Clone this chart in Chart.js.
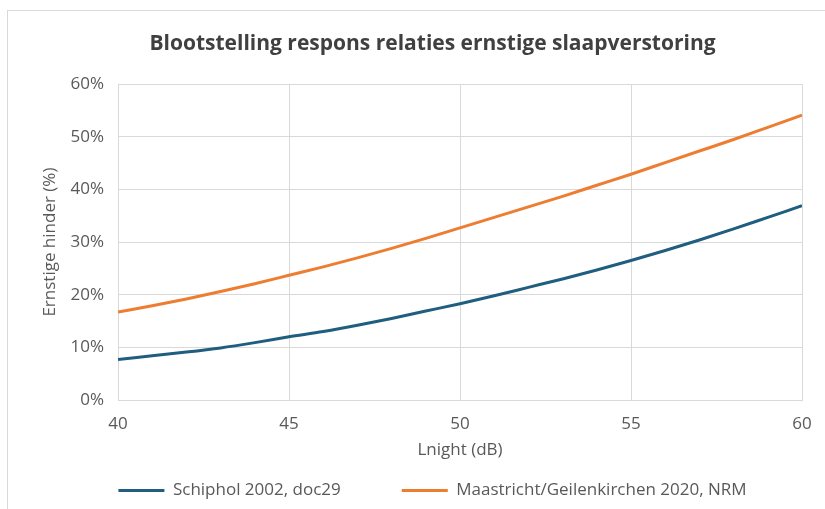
<!DOCTYPE html>
<html>
<head>
<meta charset="utf-8">
<script src="https://cdn.jsdelivr.net/npm/chart.js@4/dist/chart.umd.min.js"></script>
<style>
  html, body { margin: 0; padding: 0; background: #fff; }
  #wrap { position: relative; width: 825px; height: 509px; overflow: hidden; }
  #frame { position: absolute; left: 7px; top: 10px; width: 900px; height: 600px;
           border-left: 1px solid #d9d9d9; border-top: 1px solid #d9d9d9; }
  canvas { position: absolute; left: 0; top: 0; }
</style>
</head>
<body>
<div id="wrap">
  <div id="frame"></div>
  <canvas id="chart" width="825" height="509"></canvas>
</div>
<script>
// Lnight (dB), one value per dB
const lnight = [40, 41, 42, 43, 44, 45, 46, 47, 48, 49, 50, 51, 52, 53, 54, 55, 56, 57, 58, 59, 60];
// % ernstig slaapverstoorden
const schiphol = [7.7, 8.4, 9.1, 9.9, 10.9, 12.0, 13.0, 14.2, 15.5, 16.9, 18.3, 19.8, 21.4, 23.0, 24.7, 26.5, 28.4, 30.4, 32.5, 34.7, 36.9];
const maastricht = [16.7, 17.9, 19.2, 20.6, 22.1, 23.7, 25.3, 27.0, 28.8, 30.7, 32.7, 34.7, 36.7, 38.7, 40.8, 42.9, 45.1, 47.3, 49.5, 51.8, 54.1];
const xTicks = [40, 45, 50, 55, 60];
const yTicks = [0, 10, 20, 30, 40, 50, 60];

const seriesNames = ['Schiphol 2002, doc29', 'Maastricht/Geilenkirchen 2020, NRM'];
const seriesColors = ['#1f5e7f', '#ed7d31'];

const font = "'Open Sans', 'Noto Sans', sans-serif";
const textColor = '#595959';
const gridColor = '#d9d9d9';

function toPoints(values) {
  return values.map((v, i) => ({ x: lnight[i], y: v }));
}

const ctx = document.getElementById('chart').getContext('2d');

new Chart(ctx, {
  type: 'line',
  data: {
    datasets: [schiphol, maastricht].map((values, i) => ({
      label: seriesNames[i],
      data: toPoints(values),
      borderColor: seriesColors[i],
      backgroundColor: seriesColors[i],
      borderWidth: 3,
      pointRadius: 0,
      cubicInterpolationMode: 'monotone',
      fill: false,
    })),
  },
  options: {
    responsive: false,
    animation: false,
    layout: { padding: { left: 40, right: 0, top: 0, bottom: 0 } },
    plugins: {
      title: {
        display: true,
        text: 'Blootstelling respons relaties ernstige slaapverstoring',
        color: '#404040',
        font: { family: font, size: 21, weight: 'bold' },
        padding: { top: 31, bottom: 28 },
      },
      legend: {
        position: 'bottom',
        labels: {
          color: textColor,
          font: { family: font, size: 17 },
          usePointStyle: true,
          pointStyle: 'line',
          pointStyleWidth: 46,
          padding: 10,
          generateLabels: (chart) => {
            const items = Chart.defaults.plugins.legend.labels.generateLabels(chart);
            items.forEach((item, i) => {
              if (i < items.length - 1) item.text += '\u2003\u2003\u2003';
            });
            return items;
          },
        },
      },
      tooltip: { enabled: false },
    },
    scales: {
      x: {
        type: 'linear',
        min: 40,
        max: 60,
        afterBuildTicks: (scale) => { scale.ticks = xTicks.map(v => ({ value: v })); },
        ticks: { color: textColor, font: { family: font, size: 17 }, padding: 14, maxRotation: 0 },
        grid: { color: gridColor, drawTicks: false },
        border: { color: gridColor },
        title: {
          display: true,
          text: 'Lnight (dB)',
          color: textColor,
          font: { family: font, size: 17 },
          padding: { top: 6, bottom: 12 },
        },
        afterFit: (scale) => { scale.paddingRight = 23; scale.paddingLeft = 0; scale.height = 72; },
      },
      y: {
        min: 0,
        max: 60,
        afterBuildTicks: (scale) => { scale.ticks = yTicks.map(v => ({ value: v })); },
        ticks: { color: textColor, font: { family: font, size: 17 }, padding: 14, callback: v => v + '%' },
        grid: { color: gridColor, drawTicks: false },
        border: { color: gridColor },
        title: {
          display: true,
          text: 'Ernstige hinder (%)',
          color: textColor,
          font: { family: font, size: 17 },
          padding: { top: 0, bottom: 0 },
        },
        afterFit: (scale) => { scale.width = 78; },
      },
    },
  },
});
</script>
</body>
</html>
